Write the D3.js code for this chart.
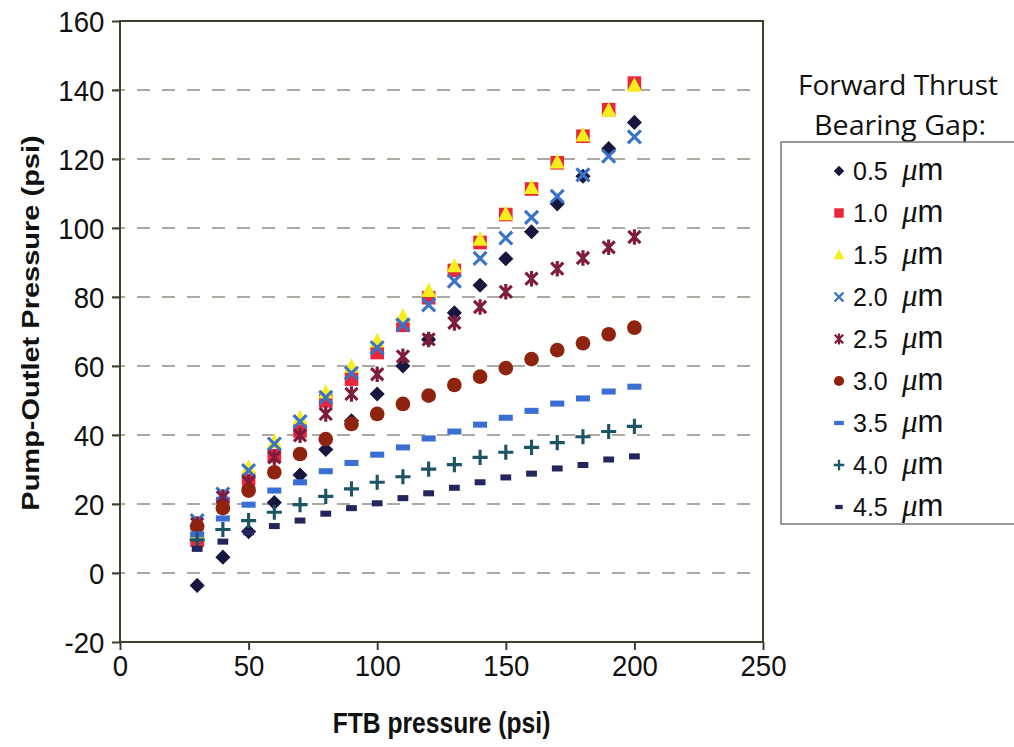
<!DOCTYPE html>
<html>
<head>
<meta charset="utf-8">
<script src="https://cdn.jsdelivr.net/npm/d3@7"></script>
<style>
  body { margin: 0; background: #fff; }
</style>
</head>
<body>
<script>
// FTB pressure (psi), x values shared by all series
const ftbPressure = [30, 40, 50, 60, 70, 80, 90, 100, 110, 120, 130, 140, 150, 160, 170, 180, 190, 200];

// pump-outlet pressure (psi) for each forward thrust bearing gap
const gap05 = [-3.6, 4.6, 12.0, 20.4, 28.4, 35.8, 44.1, 51.9, 60.0, 67.7, 75.4, 83.4, 91.1, 98.9, 107.0, 115.0, 123.0, 130.6];
const gap10 = [9.5, 20.1, 27.3, 34.0, 41.2, 49.9, 56.2, 63.9, 71.8, 79.8, 87.7, 95.8, 103.9, 111.3, 118.9, 126.6, 134.3, 142.0];
const gap15 = [11.5, 21.0, 30.5, 37.9, 44.8, 52.3, 59.8, 67.1, 74.3, 81.7, 88.9, 96.6, 104.0, 111.6, 119.0, 126.8, 134.0, 141.2];
const gap20 = [15.2, 22.9, 29.7, 37.4, 43.9, 50.9, 57.9, 65.3, 71.9, 77.7, 84.6, 91.2, 97.1, 103.1, 109.2, 115.4, 120.8, 126.4];
const gap25 = [14.2, 22.0, 26.3, 33.5, 39.9, 46.1, 51.9, 57.6, 62.8, 67.7, 72.5, 77.1, 81.5, 85.3, 88.2, 91.3, 94.4, 97.4];
const gap30 = [13.6, 18.8, 23.9, 29.2, 34.5, 38.8, 43.2, 46.1, 49.0, 51.4, 54.5, 56.9, 59.4, 62.0, 64.6, 66.6, 69.2, 71.1];
const gap35 = [11.2, 15.8, 19.8, 23.9, 26.3, 29.5, 31.9, 34.3, 36.4, 39.0, 41.0, 43.0, 45.0, 47.0, 49.1, 50.6, 52.6, 54.0];
const gap40 = [9.6, 12.6, 15.2, 17.6, 19.8, 22.2, 24.4, 26.3, 27.9, 30.1, 31.4, 33.5, 35.0, 36.4, 37.8, 39.5, 41.0, 42.5];
const gap45 = [7.0, 9.1, 11.8, 13.6, 15.2, 17.2, 18.8, 20.2, 21.7, 23.1, 24.7, 26.3, 27.7, 28.8, 30.3, 31.3, 32.9, 33.8];

const gapLabels = ["0.5", "1.0", "1.5", "2.0", "2.5", "3.0", "3.5", "4.0", "4.5"];
const xTicks = [0, 50, 100, 150, 200, 250];
const yTicks = [-20, 0, 20, 40, 60, 80, 100, 120, 140, 160];

const seriesValues = [gap05, gap10, gap15, gap20, gap25, gap30, gap35, gap40, gap45];
const shapes = ["diamond", "square", "triangle", "x", "star", "circle", "dash", "plus", "smalldash"];
const colors = ["#16163f", "#e8283a", "#f6ee1c", "#3a72c8", "#7d1c3c", "#8e2410", "#3a6ed4", "#1d5566", "#25255e"];

const w = 1014;
const h = 747;
const font = "'Liberation Sans', Arial, sans-serif";

const svg = d3.select("body").append("svg").attr("width", w).attr("height", h);

const x = d3.scaleLinear().domain([0, 250]).range([120, 763]);
const y = d3.scaleLinear().domain([-20, 160]).range([642, 21]);

// dashed gridlines
svg.append("g")
  .selectAll("line")
  .data(yTicks.filter((d) => d > -20 && d < 160))
  .enter()
  .append("line")
  .attr("x1", x(0) - 8)
  .attr("x2", x(250))
  .attr("y1", (d) => y(d))
  .attr("y2", (d) => y(d))
  .attr("stroke", "#8f8f82")
  .attr("stroke-width", 1.6)
  .attr("stroke-dasharray", "13,12");

// axes
const yAxis = d3.axisLeft(y).tickValues(yTicks).tickSize(8).tickSizeOuter(0).tickFormat((d) => String(d));
const xAxis = d3.axisBottom(x).tickValues(xTicks).tickSize(8).tickSizeOuter(0).tickFormat((d) => String(d));

const gy = svg.append("g").attr("transform", `translate(${x(0)},0)`).call(yAxis);
const gx = svg.append("g").attr("transform", `translate(0,${y(-20)})`).call(xAxis);

[gx, gy].forEach((g) => {
  g.select(".domain").remove();
  g.selectAll("line").attr("stroke", "#40402e").attr("stroke-width", 2);
  g.selectAll("text")
    .attr("font-family", font)
    .attr("font-size", 30)
    .attr("fill", "#111")
    .attr("transform", "scale(0.92,1)");
});
gy.selectAll("text").attr("x", -17).attr("dy", "0.36em");
gx.selectAll("text").attr("y", 12).attr("dy", "0.75em");

// frame
svg.append("rect")
  .attr("x", x(0))
  .attr("y", y(160))
  .attr("width", x(250) - x(0))
  .attr("height", y(-20) - y(160))
  .attr("fill", "none")
  .attr("stroke", "#40402e")
  .attr("stroke-width", 2);

// marker drawing
function marker(g, shape, color, k) {
  const sw = 2.9 * Math.max(k, 0.8);
  if (shape === "diamond") {
    g.append("path").attr("d", `M0,${-7 * k}L${7 * k},0L0,${7 * k}L${-7 * k},0Z`).attr("fill", color);
  } else if (shape === "square") {
    g.append("rect").attr("x", -6.3 * k).attr("y", -6.3 * k).attr("width", 12.6 * k).attr("height", 12.6 * k).attr("fill", color);
  } else if (shape === "triangle") {
    g.append("path").attr("d", `M0,${-8 * k}L${7 * k},${5.5 * k}L${-7 * k},${5.5 * k}Z`).attr("fill", color);
  } else if (shape === "x") {
    g.append("path").attr("d", `M${-6 * k},${-6 * k}L${6 * k},${6 * k}M${-6 * k},${6 * k}L${6 * k},${-6 * k}`)
      .attr("stroke", color).attr("stroke-width", sw).attr("fill", "none");
  } else if (shape === "star") {
    g.append("path").attr("d", `M${-5.6 * k},${-5.6 * k}L${5.6 * k},${5.6 * k}M${-5.6 * k},${5.6 * k}L${5.6 * k},${-5.6 * k}M0,${-7.2 * k}L0,${7.2 * k}`)
      .attr("stroke", color).attr("stroke-width", sw).attr("fill", "none");
  } else if (shape === "circle") {
    g.append("circle").attr("r", 6.8 * k).attr("fill", color);
  } else if (shape === "dash") {
    g.append("rect").attr("x", -6.5 * k).attr("y", -2.8 * k).attr("width", 13 * k).attr("height", 5.6 * k).attr("fill", color);
  } else if (shape === "plus") {
    g.append("path").attr("d", `M${-7 * k},0L${7 * k},0M0,${-7 * k}L0,${7 * k}`)
      .attr("stroke", color).attr("stroke-width", sw).attr("fill", "none");
  } else if (shape === "smalldash") {
    g.append("rect").attr("x", -5 * k).attr("y", -2.8 * k).attr("width", 10 * k).attr("height", 5.6 * k).attr("fill", color);
  }
}

// points
const plot = svg.append("g");
seriesValues.forEach((vals, i) => {
  const sg = plot.append("g");
  sg.selectAll("g")
    .data(vals.map((v, j) => [ftbPressure[j], v]))
    .enter()
    .append("g")
    .attr("transform", (d) => `translate(${x(d[0])},${y(d[1])})`)
    .each(function () {
      marker(d3.select(this), shapes[i], colors[i], 1.08);
    });
});

// axis titles
svg.append("text")
  .attr("transform", `translate(${(x(0) + x(250)) / 2},733) scale(0.85,1)`)
  .attr("text-anchor", "middle")
  .attr("font-family", font)
  .attr("font-weight", "bold")
  .attr("font-size", 29)
  .attr("fill", "#111")
  .text("FTB pressure (psi)");

svg.append("text")
  .attr("transform", `translate(39,323) scale(0.85,1) rotate(-90)`)
  .attr("text-anchor", "middle")
  .attr("font-family", font)
  .attr("font-weight", "bold")
  .attr("font-size", 29)
  .attr("fill", "#111")
  .text("Pump-Outlet Pressure (psi)");

// legend
const legend = svg.append("g");
const legendFont = "'Open Sans', 'Noto Sans', sans-serif";
legend.append("text").attr("x", 898).attr("y", 95).attr("text-anchor", "middle")
  .attr("font-family", legendFont).attr("font-size", 28).attr("fill", "#111")
  .attr("textLength", 200).attr("lengthAdjust", "spacingAndGlyphs")
  .text("Forward Thrust");
legend.append("text").attr("x", 900).attr("y", 135).attr("text-anchor", "middle")
  .attr("font-family", legendFont).attr("font-size", 28).attr("fill", "#111")
  .attr("textLength", 172).attr("lengthAdjust", "spacingAndGlyphs")
  .text("Bearing Gap:");

legend.append("rect")
  .attr("x", 781).attr("y", 142)
  .attr("width", 260).attr("height", 382)
  .attr("fill", "none").attr("stroke", "#7a7a72").attr("stroke-width", 1.5);

const legendY = d3.scalePoint().domain(gapLabels).range([171, 507]);

gapLabels.forEach((lab, i) => {
  const row = legend.append("g").attr("transform", `translate(0,${legendY(lab)})`);
  const mg = row.append("g").attr("transform", "translate(839,0)");
  marker(mg, shapes[i], colors[i], 0.75);
  const t = row.append("text").attr("x", 853).attr("y", 9)
    .attr("font-family", font).attr("font-size", 25).attr("fill", "#111");
  t.append("tspan").text(lab);
  t.append("tspan").attr("x", 902).attr("font-family", "'Liberation Serif', 'DejaVu Serif', serif")
    .attr("font-style", "italic").attr("font-size", 31).text("\u03bc");
  t.append("tspan").attr("font-size", 31).text("m");
});
</script>
</body>
</html>
